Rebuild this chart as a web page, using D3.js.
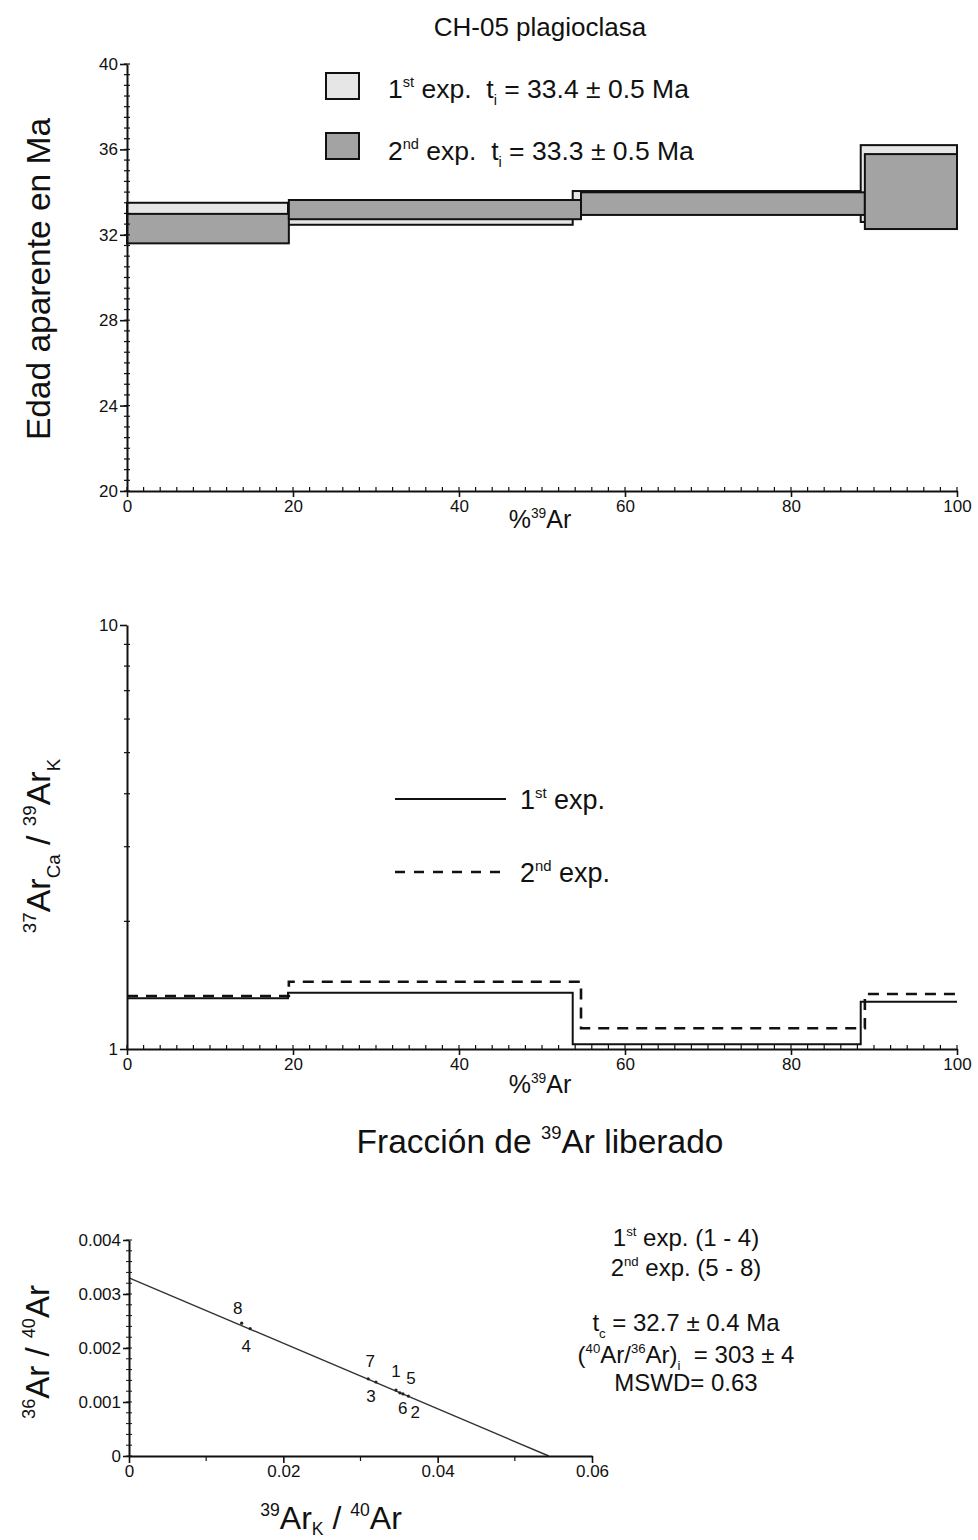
<!DOCTYPE html>
<html>
<head>
<meta charset="utf-8">
<script src="https://cdn.jsdelivr.net/npm/d3@7"></script>
<style>
  body { margin: 0; background: #fff; }
  svg { display: block; }
  text { font-family: "Liberation Sans", Arial, Helvetica, sans-serif; fill: #111; white-space: pre; }
</style>
</head>
<body>
<svg id="fig" width="978" height="1540"></svg>
<script>
// ---- CH-05 plagioclasa: step heating, two experiments ----
// cumulative %39Ar at the step boundaries
const stepEdges1st = [0, 19.4, 53.7, 88.4, 100];
const stepEdges2nd = [0, 19.5, 54.7, 88.9, 100];
// apparent age (Ma), lower / upper limit of each step box
const ageLow1st  = [32.5, 32.47, 33.0, 32.6];
const ageHigh1st = [33.5, 33.3, 34.05, 36.2];
const ageLow2nd  = [31.6, 32.73, 32.93, 32.27];
const ageHigh2nd = [32.98, 33.63, 33.99, 35.78];
// 37ArCa / 39ArK of each step
const caK1st = [1.317, 1.358, 1.026, 1.293];
const caK2nd = [1.334, 1.441, 1.119, 1.348];
// tick values
const pctTicks = [0, 20, 40, 60, 80, 100];
const ageTicks = [20, 24, 28, 32, 36, 40];
const caKTicks = [1, 10];

// ---- inverse isochron ----
const isoLabels = ["1", "2", "3", "4", "5", "6", "7", "8"];
const isoX = [0.0346, 0.0362, 0.0320, 0.0157, 0.0355, 0.0351, 0.0310, 0.0146];
const isoY = [0.00122, 0.00111, 0.00137, 0.00236, 0.00115, 0.00117, 0.00143, 0.00246];
const isoFitX = [0, 0.0544];
const isoFitY = [0.0033, 0];
const isoXTicks = [0, 0.02, 0.04, 0.06];
const isoYTicks = [0, 0.001, 0.002, 0.003, 0.004];

const svg = d3.select("#fig");

// text with superscript / subscript runs: parts = [[string, "n"|"sup"|"sub"], ...]
function richText(parent, x, y, parts, size, anchor, transform, subShift) {
  const t = parent.append("text")
    .attr("x", x).attr("y", y)
    .attr("text-anchor", anchor || "start")
    .attr("xml:space", "preserve")
    .style("font-size", size + "px");
  if (transform) t.attr("transform", transform);
  let shift = 0;
  parts.forEach(([s, kind]) => {
    const target = kind === "sup" ? -0.42 * size : kind === "sub" ? (subShift || 0.28) * size : 0;
    t.append("tspan")
      .attr("dy", target - shift)
      .style("font-size", (kind === "n" ? size : size * 0.55) + "px")
      .text(s);
    shift = target;
  });
  return t;
}

function styleAxis(g, fontSize) {
  g.select(".domain").attr("stroke", "#111").attr("stroke-width", 2);
  g.selectAll(".tick line").attr("stroke", "#111").attr("stroke-width", 1.6);
  g.selectAll(".tick text").style("font-size", fontSize + "px").attr("fill", "#111")
    .style("font-family", "'Liberation Sans', Arial, sans-serif");
}

// ======== Panel 1: age spectrum ========
const x1 = d3.scaleLinear().domain([0, 100]).range([127, 957]);
const y1 = d3.scaleLinear().domain([20, 40]).range([491, 64]);

richText(svg, 540, 36, [["CH-05 plagioclasa", "n"]], 26, "middle");

const p1 = svg.append("g");
const boxes1 = d3.range(4).map(i => ({ x0: stepEdges1st[i], x1: stepEdges1st[i + 1], lo: ageLow1st[i], hi: ageHigh1st[i] }));
const boxes2 = d3.range(4).map(i => ({ x0: stepEdges2nd[i], x1: stepEdges2nd[i + 1], lo: ageLow2nd[i], hi: ageHigh2nd[i] }));

p1.selectAll("rect.e1").data(boxes1).join("rect").attr("class", "e1")
  .attr("x", d => x1(d.x0)).attr("width", d => x1(d.x1) - x1(d.x0))
  .attr("y", d => y1(d.hi)).attr("height", d => y1(d.lo) - y1(d.hi))
  .attr("fill", "#e6e6e6").attr("stroke", "#111").attr("stroke-width", 2);
p1.selectAll("rect.e2").data(boxes2).join("rect").attr("class", "e2")
  .attr("x", d => x1(d.x0)).attr("width", d => x1(d.x1) - x1(d.x0))
  .attr("y", d => y1(d.hi)).attr("height", d => y1(d.lo) - y1(d.hi))
  .attr("fill", "#a3a3a3").attr("stroke", "#111").attr("stroke-width", 2);

// minor ticks
p1.selectAll("line.ym").data(d3.range(20, 40.01, 0.5)).join("line")
  .attr("x1", 124).attr("x2", 130).attr("y1", d => y1(d)).attr("y2", d => y1(d))
  .attr("stroke", "#111").attr("stroke-width", 1.2);
p1.selectAll("line.xm").data(d3.range(0, 100.01, 2)).join("line")
  .attr("x1", d => x1(d)).attr("x2", d => x1(d)).attr("y1", 487).attr("y2", 491)
  .attr("stroke", "#111").attr("stroke-width", 1.2);

const ax1y = p1.append("g").attr("transform", "translate(127,0)")
  .call(d3.axisLeft(y1).tickValues(ageTicks).tickSize(7).tickPadding(2).tickSizeOuter(0));
styleAxis(ax1y, 17);
const ax1x = p1.append("g").attr("transform", "translate(0,491)")
  .call(d3.axisBottom(x1).tickValues(pctTicks).tickSize(6).tickPadding(3).tickSizeOuter(0));
styleAxis(ax1x, 17);

richText(svg, 540, 528, [["%", "n"], ["39", "sup"], ["Ar", "n"]], 25, "middle");
richText(svg, 0, 0, [["Edad aparente en Ma", "n"]], 33.5, "middle", "translate(50,279) rotate(-90)");

// legend
const leg1 = svg.append("g");
leg1.append("rect").attr("x", 326).attr("y", 73).attr("width", 33).attr("height", 26)
  .attr("fill", "#e6e6e6").attr("stroke", "#111").attr("stroke-width", 2);
leg1.append("rect").attr("x", 326).attr("y", 133).attr("width", 33).attr("height", 26)
  .attr("fill", "#a3a3a3").attr("stroke", "#111").attr("stroke-width", 2);
richText(leg1, 388, 98, [["1", "n"], ["st", "sup"], [" exp.  t", "n"], ["i", "sub"], [" = 33.4 ± 0.5 Ma", "n"]], 26.5);
richText(leg1, 388, 160, [["2", "n"], ["nd", "sup"], [" exp.  t", "n"], ["i", "sub"], [" = 33.3 ± 0.5 Ma", "n"]], 26.5);

// ======== Panel 2: Ca/K ========
const x2 = d3.scaleLinear().domain([0, 100]).range([127, 957]);
const y2 = d3.scaleLog().domain([1, 10]).range([1049, 625]);
const p2 = svg.append("g");

function stepPoints(edges, vals) {
  const pts = [];
  vals.forEach((v, i) => { pts.push([edges[i], v]); pts.push([edges[i + 1], v]); });
  return pts;
}
const stepLine = d3.line().x(d => x2(d[0])).y(d => y2(d[1]));

p2.append("path").attr("d", stepLine(stepPoints(stepEdges2nd, caK2nd)))
  .attr("fill", "none").attr("stroke", "#111").attr("stroke-width", 2.6).attr("stroke-dasharray", "11,8");
p2.append("path").attr("d", stepLine(stepPoints(stepEdges1st, caK1st)))
  .attr("fill", "none").attr("stroke", "#111").attr("stroke-width", 2);

p2.selectAll("line.ym").data(d3.range(2, 10)).join("line")
  .attr("x1", 124).attr("x2", 130).attr("y1", d => y2(d)).attr("y2", d => y2(d))
  .attr("stroke", "#111").attr("stroke-width", 1.2);
p2.selectAll("line.xm").data(d3.range(0, 100.01, 2)).join("line")
  .attr("x1", d => x2(d)).attr("x2", d => x2(d)).attr("y1", 1045).attr("y2", 1049)
  .attr("stroke", "#111").attr("stroke-width", 1.2);

const ax2y = p2.append("g").attr("transform", "translate(127,0)")
  .call(d3.axisLeft(y2).tickValues(caKTicks).tickFormat(d3.format("d")).tickSize(7).tickPadding(2).tickSizeOuter(0));
styleAxis(ax2y, 17);
const ax2x = p2.append("g").attr("transform", "translate(0,1049)")
  .call(d3.axisBottom(x2).tickValues(pctTicks).tickSize(6).tickPadding(3).tickSizeOuter(0));
styleAxis(ax2x, 17);

richText(svg, 540, 1093, [["%", "n"], ["39", "sup"], ["Ar", "n"]], 25, "middle");
richText(svg, 540, 1153, [["Fracción de ", "n"], ["39", "sup"], ["Ar liberado", "n"]], 33.5, "middle");
richText(svg, 0, 0, [["37", "sup"], ["Ar", "n"], ["Ca", "sub"], [" / ", "n"], ["39", "sup"], ["Ar", "n"], ["K", "sub"]], 34, "middle",
  "translate(50,846) rotate(-90)");

// legend
const leg2 = svg.append("g");
leg2.append("line").attr("x1", 395).attr("x2", 506).attr("y1", 799).attr("y2", 799)
  .attr("stroke", "#111").attr("stroke-width", 2);
leg2.append("line").attr("x1", 395).attr("x2", 506).attr("y1", 872).attr("y2", 872)
  .attr("stroke", "#111").attr("stroke-width", 2.6).attr("stroke-dasharray", "10,9");
richText(leg2, 520, 809, [["1", "n"], ["st", "sup"], [" exp.", "n"]], 27);
richText(leg2, 520, 882, [["2", "n"], ["nd", "sup"], [" exp.", "n"]], 27);

// ======== Panel 3: inverse isochron ========
const x3 = d3.scaleLinear().domain([0, 0.06]).range([129, 592]);
const y3 = d3.scaleLinear().domain([0, 0.004]).range([1456, 1240]);
const p3 = svg.append("g");

p3.selectAll("line.ym").data(d3.range(0, 0.00401, 0.0002)).join("line")
  .attr("x1", 126).attr("x2", 132).attr("y1", d => y3(d)).attr("y2", d => y3(d))
  .attr("stroke", "#111").attr("stroke-width", 1);
p3.selectAll("line.xm").data([0.01, 0.03, 0.05]).join("line")
  .attr("x1", d => x3(d)).attr("x2", d => x3(d)).attr("y1", 1456).attr("y2", 1461)
  .attr("stroke", "#111").attr("stroke-width", 1.2);

p3.append("line")
  .attr("x1", x3(isoFitX[0])).attr("y1", y3(isoFitY[0]))
  .attr("x2", x3(isoFitX[1])).attr("y2", y3(isoFitY[1]))
  .attr("stroke", "#333").attr("stroke-width", 1.4);

const isoPts = isoLabels.map((l, i) => ({ label: l, x: isoX[i], y: isoY[i] }));
p3.selectAll("circle.pt").data(isoPts).join("circle")
  .attr("cx", d => x3(d.x)).attr("cy", d => y3(d.y)).attr("r", 1.6).attr("fill", "#222");

// label placement around each point
const labelOffset = { "1": [0, -13], "2": [7, 22], "3": [-5, 20], "4": [-4, 23], "5": [8, -10], "6": [3, 21], "7": [2, -12], "8": [-4, -9] };
p3.selectAll("text.pl").data(isoPts).join("text")
  .attr("x", d => x3(d.x) + labelOffset[d.label][0])
  .attr("y", d => y3(d.y) + labelOffset[d.label][1])
  .attr("text-anchor", "middle").style("font-size", "17px").text(d => d.label);

const ax3y = p3.append("g").attr("transform", "translate(129,0)")
  .call(d3.axisLeft(y3).tickValues(isoYTicks).tickFormat(d => d === 0 ? "0" : d3.format(".3f")(d)).tickSize(6).tickPadding(2).tickSizeOuter(0));
styleAxis(ax3y, 17);
const ax3x = p3.append("g").attr("transform", "translate(0,1456)")
  .call(d3.axisBottom(x3).tickValues(isoXTicks).tickFormat(d => d === 0 ? "0" : d3.format(".2f")(d)).tickSize(7).tickPadding(2).tickSizeOuter(0));
styleAxis(ax3x, 17);

richText(svg, 331, 1529, [["39", "sup"], ["Ar", "n"], ["K", "sub"], [" / ", "n"], ["40", "sup"], ["Ar", "n"]], 32, "middle", null, 0.2);
richText(svg, 0, 0, [["36", "sup"], ["Ar / ", "n"], ["40", "sup"], ["Ar", "n"]], 33, "middle", "translate(49,1352) rotate(-90)");

// fit summary
const info = svg.append("g");
richText(info, 686, 1246, [["1", "n"], ["st", "sup"], [" exp. (1 - 4)", "n"]], 24, "middle");
richText(info, 686, 1276, [["2", "n"], ["nd", "sup"], [" exp. (5 - 8)", "n"]], 24, "middle");
richText(info, 686, 1331, [["t", "n"], ["c", "sub"], [" = 32.7 ± 0.4 Ma", "n"]], 24, "middle");
richText(info, 686, 1363, [["(", "n"], ["40", "sup"], ["Ar/", "n"], ["36", "sup"], ["Ar)", "n"], ["i", "sub"], ["  = 303 ± 4", "n"]], 24, "middle");
richText(info, 686, 1391, [["MSWD= 0.63", "n"]], 24, "middle");
</script>
</body>
</html>
